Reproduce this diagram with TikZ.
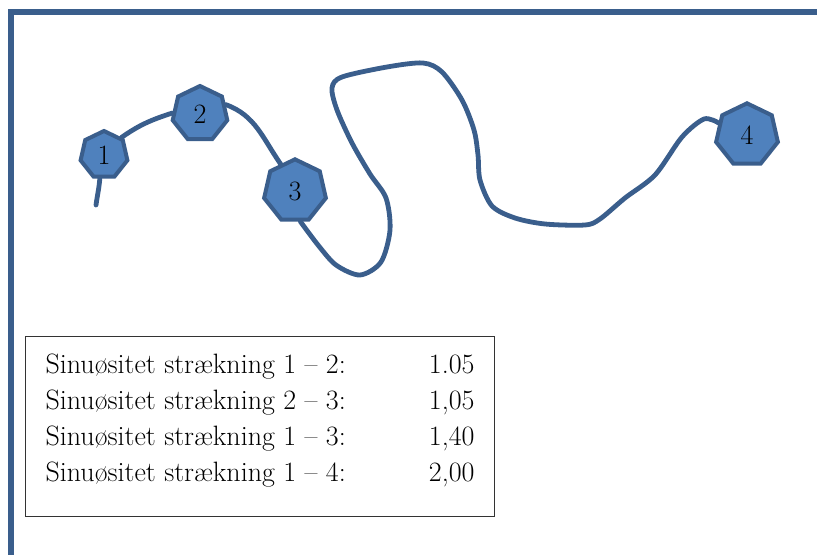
\documentclass[tikz,border=0pt]{standalone}
\usepackage{tikz}
\usetikzlibrary{shapes.geometric}
\definecolor{linjeblaa}{RGB}{58,94,140}
\definecolor{fyldblaa}{RGB}{79,129,189}

\tikzset{
	knude/.style={regular polygon, regular polygon sides=7, draw=linjeblaa, fill=fyldblaa,
		line width=3pt, inner sep=0pt, font=\fontsize{21}{21}\selectfont},
	rute/.style={draw=linjeblaa, line width=3.6pt, line cap=round},
	ramme/.style={draw=linjeblaa, line width=4.5pt},
	boks/.style={draw=black!80, line width=0.8pt, anchor=north west, inner xsep=15pt,
		minimum width=351.75pt, minimum height=135pt, font=\fontsize{21}{27}\selectfont}
}

\begin{document}
\begin{tikzpicture}[x=0.75pt, y=0.75pt]
		\useasboundingbox (0,0) rectangle (817,-555);
		\draw[ramme] (11,-555) -- (11,-12) -- (817,-12);
		
		% stop-punkterne
		\node[knude, minimum size=36pt] (n1) at (104,-155) {1};
		\node[knude, minimum size=42pt] (n2) at (200,-114) {2};
		\node[knude, minimum size=47.5pt] (n3) at (295,-191) {3};
		\node[knude, minimum size=47.5pt] (n4) at (747,-135) {4};
		\coordinate (start) at (96,-205);
		
		% ruten mellem punkterne
		\draw[rute] (start) to[out=82, in=-95] (n1.-100);
		\draw[rute] (n1.45) to[out=35, in=198] (n2.178);
		\draw[rute] (n2.20) to[out=-20, in=125] (n3.118);
		\draw[rute] plot[smooth] coordinates {
			(n3.-80) (318,-245) (336,-265) (360,-275) (381,-262) (390,-230) (386,-198)
			(370,-174) (352,-143) (337,-110) (332,-88) (342,-77) (387,-67) (423,-63)
			(442,-72) (462,-100) (474,-130) (478,-155) (480,-180) (492,-206) (515,-218)
			(545,-224) (585,-225) (600,-219) (625,-198) (655,-175) (682,-137) (704,-119)
			(n4.157)};
		
		\node[boks] (tabel) at (25,-336) {%
			\begin{tabular*}{321.75pt}{@{}l@{\extracolsep{\fill}}r@{}}
				Sinuøsitet strækning 1 – 2: & 1.05\\
				Sinuøsitet strækning 2 – 3: & 1,05\\
				Sinuøsitet strækning 1 – 3: & 1,40\\
				Sinuøsitet strækning 1 – 4: & 2,00\\[9pt]
			\end{tabular*}};
	\end{tikzpicture}
\end{document}
